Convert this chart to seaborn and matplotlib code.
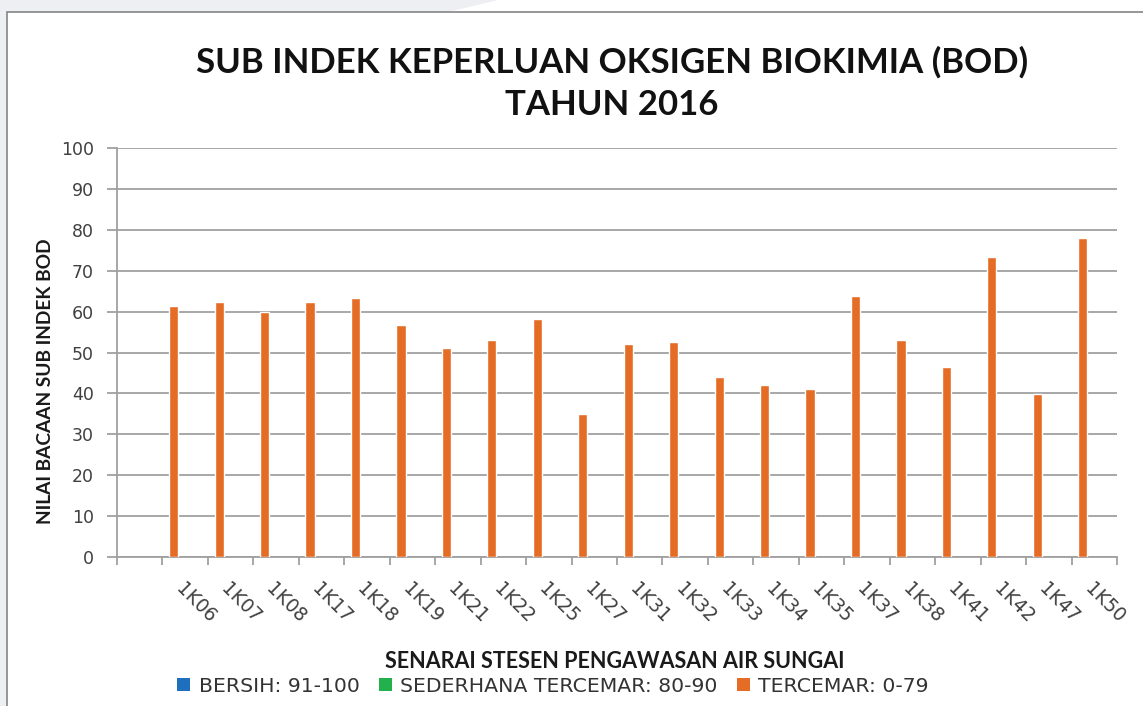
import pandas as pd
import numpy as np
import matplotlib
matplotlib.use("Agg")
import matplotlib.pyplot as plt
from matplotlib.patches import Rectangle, Polygon, Patch
import seaborn as sns

stesen = ["1K06", "1K07", "1K08", "1K17", "1K18", "1K19", "1K21", "1K22", "1K25", "1K27",
          "1K31", "1K32", "1K33", "1K34", "1K35", "1K37", "1K38", "1K41", "1K42", "1K47", "1K50"]
nilai = [61.4, 62.4, 60.0, 62.4, 63.4, 56.8, 51.1, 53.0, 58.1, 35.0,
         52.0, 52.5, 44.0, 42.1, 41.1, 63.9, 53.0, 46.4, 73.3, 39.9, 78.0]
kelas = ["BERSIH: 91-100", "SEDERHANA TERCEMAR: 80-90", "TERCEMAR: 0-79"]
warna = ["#1F6FBF", "#22B14C", "#E46C25"]

dane = pd.DataFrame({"stesen": stesen, "nilai": nilai, "kelas": kelas[2]})
susunan = [""] + stesen  # first slot is empty in the original chart

sns.set_style("white")
plt.rcParams['font.family'] = ['DejaVu Sans']

W, H = 1143, 706
fig = plt.figure(figsize=(W / 100, H / 100), dpi=100, facecolor="#EDEFF2")
# white chart box with grey border
fig.patches.append(Rectangle((7 / W, -0.01), 1.1, 1 - 12 / H + 0.01, transform=fig.transFigure,
                             facecolor="white", edgecolor="#8E8E8E", lw=1.3, zorder=-2))
fig.patches.append(Polygon([(498 / W, 1), (1.01, 1), (1.01, 1 - 12 / H), (448 / W, 1 - 12 / H)],
                           closed=True, transform=fig.transFigure, facecolor="white",
                           edgecolor="none", zorder=-3))

ax = fig.add_axes([117 / W, 1 - 557 / H, (1117 - 117) / W, (557 - 148) / H])
ax.set_facecolor("none")

sns.barplot(data=dane, x="stesen", y="nilai", hue="kelas", order=susunan,
            hue_order=[kelas[2], kelas[0], kelas[1]], dodge=True,
            palette=dict(zip(kelas, warna)), width=0.76, gap=0.2,
            saturation=1, legend=False, ax=ax, zorder=3)

ax.set_ylim(0, 100)
ax.set_yticks(range(0, 101, 10))
ax.set_xlim(-0.5, len(susunan) - 0.5)
ax.yaxis.grid(True, color="#A0A0A0", lw=1.3, zorder=0)
ax.set_axisbelow(True)
for s in ["top", "right"]:
    ax.spines[s].set_visible(False)
for s in ["left", "bottom"]:
    ax.spines[s].set_color("#A0A0A0")
    ax.spines[s].set_linewidth(1.3)

ax.tick_params(axis="y", left=True, length=7.5, width=1.3, color="#A0A0A0", labelsize=12.5,
               labelcolor="#404040", pad=9)
ax.set_xticks(np.arange(len(susunan)))
ax.set_xticklabels(susunan, rotation=-45, ha="left", va="top", rotation_mode="anchor")
ax.tick_params(axis="x", which="major", bottom=True, length=0, labelsize=13.5,
               labelcolor="#404040", pad=16)
ax.set_xticks(np.arange(len(susunan) + 1) - 0.5, minor=True)
ax.tick_params(axis="x", which="minor", bottom=True, length=6, width=1.3, color="#A0A0A0")

ax.set_xlabel("")
ax.set_ylabel("")
fig.text(46 / W, 1 - 381 / H, "NILAI BACAAN SUB INDEK BOD", rotation=90, ha="center", va="center",
         fontsize=13.8, fontweight="bold", family="Lato", color="#1a1a1a")
fig.text(615 / W, 1 - 662 / H, "SENARAI STESEN PENGAWASAN AIR SUNGAI", ha="center", va="center",
         fontsize=15.5, fontweight="bold", family="Lato", color="#1a1a1a")
fig.text(612 / W, 1 - 62 / H, "SUB INDEK KEPERLUAN OKSIGEN BIOKIMIA (BOD)", ha="center", va="center",
         fontsize=25, fontweight="bold", family="Lato", color="#111111")
fig.text(612 / W, 1 - 105 / H, "TAHUN 2016", ha="center", va="center",
         fontsize=25, fontweight="bold", family="Lato", color="#111111")

uchwyty = [Patch(facecolor=c, edgecolor="none") for c in warna]
fig.legend(uchwyty, kelas, loc="center", bbox_to_anchor=(553 / W, 1 - 686 / H), ncol=3,
           frameon=False, handlelength=0.65, handleheight=0.65, handletextpad=0.4,
           columnspacing=0.95, prop={"family": "DejaVu Sans", "size": 14.7}, labelcolor="#333333")

fig.savefig("out.png", dpi=100, facecolor=fig.get_facecolor())
